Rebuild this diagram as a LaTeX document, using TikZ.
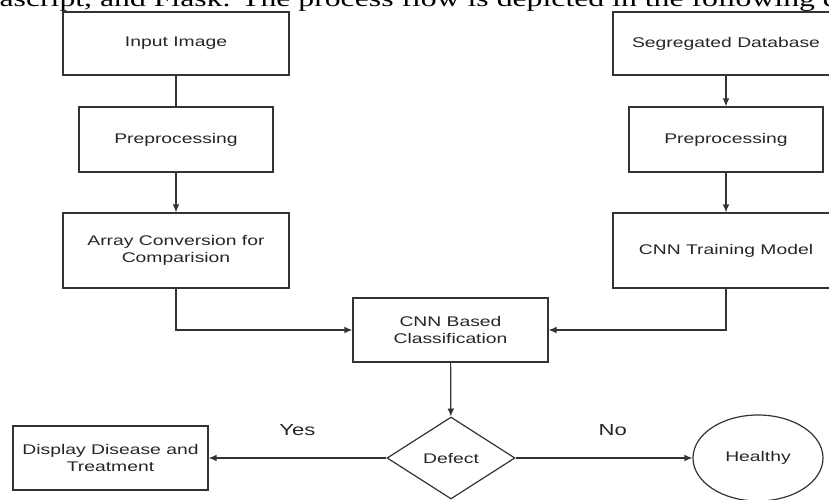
\documentclass[tikz,border=0pt]{standalone}
\usepackage{fontspec}
\newfontfamily\boxfont[FakeStretch=1.38]{Liberation Sans}
\newfontfamily\capfont[FakeStretch=1.38]{Liberation Serif}
\usetikzlibrary{shapes.geometric,arrows.meta}

\begin{document}
\begin{tikzpicture}[x=0.75pt, y=-0.75pt, line width=0.9pt,
        box/.style={draw=black!80, rectangle, inner sep=0pt, align=center, text=black!85,
            font=\boxfont\fontsize{10.5}{12.75}\selectfont},
        wide/.style={box, minimum width=169.5pt},
        narrow/.style={box, minimum width=146.25pt},
        arr/.style={draw=black!80, -{Latex[length=6pt,width=5pt]}},
        lbl/.style={font=\boxfont\fontsize{12}{14}\selectfont, text=black!85}]
        \useasboundingbox (0, 0) rectangle (829, 500);
        \clip (0, 0) rectangle (829, 500); % keeps the cut-off edges of the scan

        % caption line of the page, only its lower part is seen
        \node[anchor=south west, inner sep=0pt, font=\capfont\fontsize{17.25}{20}\selectfont]
            (caption) at (-1, 12) {ascript, and Flask. The process flow is depicted in the following diagram};

        % left column
        \node[wide, minimum height=47.25pt] (inimg) at (176, 43.5) {Input Image};
        \node[narrow, minimum width=145.5pt, minimum height=48.75pt] (prepL) at (176, 139.5) {Preprocessing};
        \node[wide, minimum height=56.25pt] (arrconv) at (176, 250.5) {Array Conversion for\\Comparision};

        % right column
        \node[wide, minimum height=47.25pt] (segdb) at (726, 43.5) {Segregated Database};
        \node[narrow, minimum width=145.5pt, minimum height=48.75pt] (prepR) at (726, 139.5) {Preprocessing};
        \node[wide, minimum height=56.25pt] (train) at (726, 250.5) {CNN Training Model};

        % middle and bottom row
        \node[narrow, minimum height=48pt] (cnn) at (450.5, 330) {CNN Based\\Classification};
        \node[box, diamond, minimum width=96pt, minimum height=61.5pt] (defect) at (451, 458) {Defect};
        \node[narrow, minimum height=48pt] (disp) at (110.5, 458) {Display Disease and\\Treatment};
        \node[box, ellipse, minimum width=97.5pt, minimum height=64.5pt] (healthy) at (758, 458) {Healthy};

        \draw[draw=black!80] (inimg) -- (prepL);
        \draw[arr] (prepL) -- (arrconv);
        \draw[arr] (segdb) -- (prepR);
        \draw[arr] (prepR) -- (train);
        \draw[arr] (arrconv.south) |- (cnn.west);
        \draw[arr] (train.south) |- (cnn.east);
        \draw[arr] (cnn) -- (defect);
        \draw[arr] (defect.west) -- node[lbl, above=13pt] {Yes} (disp.east);
        \draw[arr] (defect.east) -- node[lbl, pos=0.55, above=13pt] {No} (healthy.west);
    \end{tikzpicture}
\end{document}
